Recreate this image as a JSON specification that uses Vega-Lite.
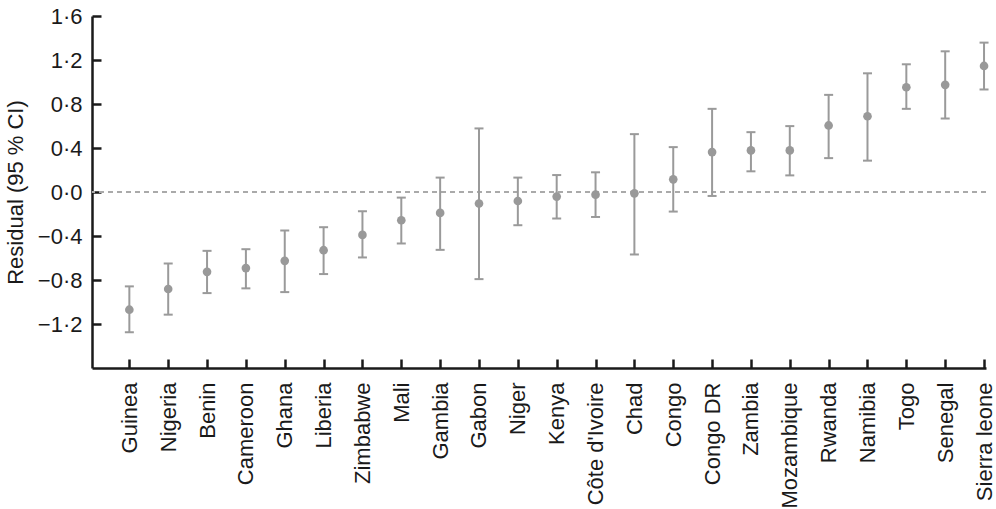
{
  "$schema": "https://vega.github.io/schema/vega-lite/v6.json",
  "width": 894,
  "height": 352,
  "autosize": "none",
  "padding": {"left": 92, "top": 16, "right": 10, "bottom": 141},
  "background": "white",
  "config": {"view": {"stroke": null}, "font": "Liberation Sans"},
  "data": {"values": [
    {"country": "Guinea", "residual": -1.07, "lower": -1.275, "upper": -0.858},
    {"country": "Nigeria", "residual": -0.882, "lower": -1.115, "upper": -0.65},
    {"country": "Benin", "residual": -0.726, "lower": -0.919, "upper": -0.535},
    {"country": "Cameroon", "residual": -0.692, "lower": -0.876, "upper": -0.52},
    {"country": "Ghana", "residual": -0.626, "lower": -0.91, "upper": -0.35},
    {"country": "Liberia", "residual": -0.529, "lower": -0.746, "upper": -0.32},
    {"country": "Zimbabwe", "residual": -0.39, "lower": -0.595, "upper": -0.175},
    {"country": "Mali", "residual": -0.257, "lower": -0.468, "upper": -0.051},
    {"country": "Gambia", "residual": -0.19, "lower": -0.526, "upper": 0.131},
    {"country": "Gabon", "residual": -0.105, "lower": -0.792, "upper": 0.578},
    {"country": "Niger", "residual": -0.082, "lower": -0.302, "upper": 0.131},
    {"country": "Kenya", "residual": -0.042, "lower": -0.241, "upper": 0.154},
    {"country": "Côte d'Ivoire", "residual": -0.024, "lower": -0.227, "upper": 0.179},
    {"country": "Chad", "residual": -0.012, "lower": -0.568, "upper": 0.526},
    {"country": "Congo", "residual": 0.115, "lower": -0.178, "upper": 0.408},
    {"country": "Congo DR", "residual": 0.363, "lower": -0.036, "upper": 0.756},
    {"country": "Zambia", "residual": 0.378, "lower": 0.188, "upper": 0.544},
    {"country": "Mozambique", "residual": 0.378, "lower": 0.151, "upper": 0.599},
    {"country": "Rwanda", "residual": 0.605, "lower": 0.308, "upper": 0.883},
    {"country": "Namibia", "residual": 0.689, "lower": 0.285, "upper": 1.079},
    {"country": "Togo", "residual": 0.952, "lower": 0.756, "upper": 1.161},
    {"country": "Senegal", "residual": 0.974, "lower": 0.668, "upper": 1.279},
    {"country": "Sierra leone", "residual": 1.146, "lower": 0.932, "upper": 1.358}
  ]},
  "encoding": {
    "x": {
      "field": "country", "type": "nominal", "sort": null,
      "scale": {"type": "point", "padding": 0.506, "align": 0.95},
      "axis": {
        "title": null, "labelAngle": -90, "labelAlign": "right", "labelBaseline": "middle",
        "labelFontSize": 22, "labelFont": "Liberation Sans", "labelColor": "#1a1a1a",
        "domainColor": "#1a1a1a", "domainWidth": 2.5, "tickColor": "#1a1a1a", "tickWidth": 2.5,
        "tickSize": -9, "labelPadding": 23, "grid": false
      }
    }
  },
  "layer": [
    {
      "mark": {"type": "rule", "color": "#aaaaaa", "strokeDash": [5, 4], "strokeWidth": 1.5},
      "encoding": {"x": null, "y": {"datum": 0, "type": "quantitative"}}
    },
    {
      "mark": {"type": "rule", "color": "#9a9a9a", "strokeWidth": 2},
      "encoding": {
        "y": {
          "field": "lower", "type": "quantitative",
          "scale": {"domain": [-1.6, 1.6], "nice": false, "zero": false},
          "axis": {
            "title": "Residual (95 % CI)", "titleFont": "Liberation Sans", "titleFontSize": 22,
            "titleFontWeight": "normal", "titleColor": "#1a1a1a", "titlePadding": 10,
            "values": [-1.2, -0.8, -0.4, 0, 0.4, 0.8, 1.2, 1.6],
            "labelExpr": "replace(format(datum.value, '.1f'), '.', '·')",
            "labelFontSize": 22, "labelFont": "Liberation Sans", "labelColor": "#1a1a1a",
            "domainColor": "#1a1a1a", "domainWidth": 2.5, "tickColor": "#1a1a1a", "tickWidth": 2.5,
            "tickSize": -9, "labelPadding": 19, "grid": false
          }
        },
        "y2": {"field": "upper"}
      }
    },
    {
      "mark": {"type": "tick", "color": "#9a9a9a", "size": 9, "thickness": 2, "opacity": 1},
      "encoding": {"y": {"field": "lower", "type": "quantitative"}}
    },
    {
      "mark": {"type": "tick", "color": "#9a9a9a", "size": 9, "thickness": 2, "opacity": 1},
      "encoding": {"y": {"field": "upper", "type": "quantitative"}}
    },
    {
      "mark": {"type": "circle", "color": "#999999", "size": 75, "opacity": 1},
      "encoding": {"y": {"field": "residual", "type": "quantitative"}}
    }
  ]
}
